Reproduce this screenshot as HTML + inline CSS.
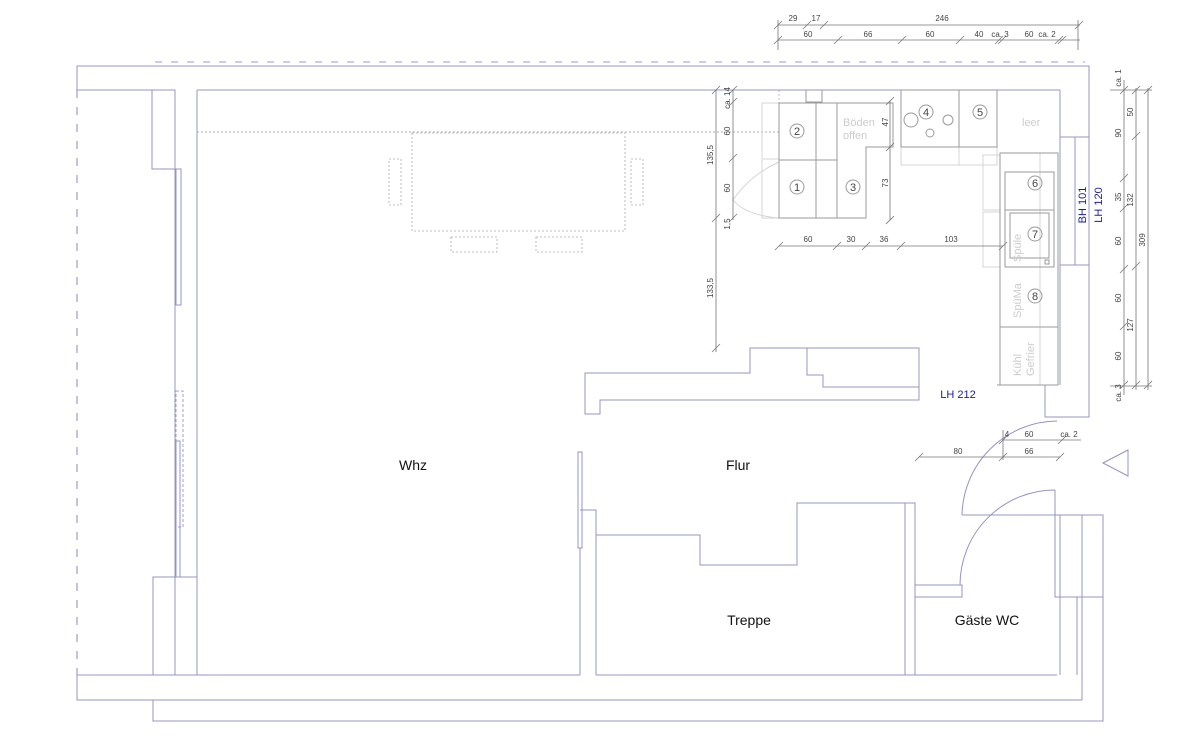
<!DOCTYPE html>
<html><head><meta charset="utf-8"><style>
html,body{margin:0;padding:0;background:#fff;}
svg{display:block;font-family:"Liberation Sans",sans-serif;}
.w{stroke:#9494c4;stroke-width:1;fill:none}
.c{stroke:#9a9a9a;stroke-width:1;fill:none}
.l{stroke:#d4d4d4;stroke-width:1;fill:none}
.d{stroke:#999;stroke-width:0.8;fill:none}
.t{stroke:#777;stroke-width:0.8}
.dim{font-size:8px;fill:#444}
.num{font-size:11px;fill:#444;text-anchor:middle}
</style></head><body>
<svg width="1200" height="749" viewBox="0 0 1200 749" xmlns="http://www.w3.org/2000/svg">
<line x1="155" y1="62" x2="1085" y2="62" stroke="#9a9ad0" stroke-width="1" stroke-dasharray="7,9"/>
<polyline class="w" points="77,90 77,66 1089,66 1089,417 1045,417 1045,385 997,385"/>
<line x1="77" y1="90" x2="77" y2="675" stroke="#8a8ab8" stroke-width="1" stroke-dasharray="8,9"/>
<line class="w" x1="77" y1="90" x2="152" y2="90"/>
<line class="w" x1="197" y1="90" x2="1060" y2="90"/>
<polyline class="w" points="1060,90 1060,137 1089,137"/>
<rect class="w" x="1060" y="137" width="29" height="128"/>
<line class="w" x1="1075" y1="137" x2="1075" y2="265"/>
<line class="w" x1="1060" y1="265" x2="1060" y2="385"/>
<rect class="w" x="152" y="90" width="23" height="79"/>
<line class="w" x1="175" y1="90" x2="175" y2="675"/>
<line class="w" x1="197" y1="90" x2="197" y2="675"/>
<rect class="w" x="176" y="169" width="5" height="136"/>
<rect x="176" y="391" width="7" height="136" fill="none" stroke="#8a8ab8" stroke-width="0.8" stroke-dasharray="3,2"/>
<rect class="w" x="176" y="441" width="4" height="136"/>
<rect class="w" x="153" y="577" width="44" height="98"/>
<polyline class="w" points="77,675 77,700 1082,700"/>
<line class="w" x1="77" y1="675" x2="580" y2="675"/>
<line class="w" x1="596" y1="675" x2="1057" y2="675"/>
<polyline class="w" points="153,700 153,721 1103,721 1103,515"/>
<rect class="w" x="578" y="452" width="4" height="96"/>
<line class="w" x1="580" y1="548" x2="580" y2="675"/>
<polyline class="w" points="596,675 596,510 580,510"/>
<polyline class="w" points="596,535 700,535 700,565 797,565 797,503 915,503 915,675"/>
<line class="w" x1="905" y1="503" x2="905" y2="675"/>
<rect class="w" x="915" y="585" width="47" height="12"/>
<path class="w" d="M1057,421 A96,96 0 0 0 962,515"/>
<line class="w" x1="962" y1="515" x2="1103" y2="515"/>
<path class="w" d="M1055,490 A95,95 0 0 0 960,585"/>
<polyline class="w" points="1055,490 1055,597 1060,597"/>
<rect class="w" x="1060" y="515" width="43" height="82"/>
<line class="w" x1="1082" y1="515" x2="1082" y2="700"/>
<line class="w" x1="1060" y1="597" x2="1060" y2="675"/>
<line class="w" x1="1077" y1="597" x2="1077" y2="675"/>
<polygon class="w" points="1103,463 1128,450 1128,476"/>
<polygon class="w" points="585,373 750,373 750,348 919,348 919,400 600,400 600,414 585,414"/>
<polyline class="w" points="807,348 807,375 823,375 823,387 919,387"/>
<line x1="197" y1="132" x2="779" y2="132" stroke="#999" stroke-width="0.8" stroke-dasharray="2,2"/>
<g stroke="#aaa" stroke-width="0.8" fill="none" stroke-dasharray="2,2">
<rect x="412" y="133" width="213" height="98"/>
<rect x="389" y="159" width="12" height="46"/>
<rect x="631" y="159" width="12" height="46"/>
<rect x="451" y="237" width="46" height="15"/>
<rect x="536" y="237" width="46" height="15"/>
<line x1="779" y1="90" x2="779" y2="132"/>
</g>
<g class="l">
<rect x="762" y="103" width="17" height="56"/>
<path d="M762,160 L762,218 L779,218"/>
<path d="M733,200 Q750,175 779,162"/><path d="M733,200 Q745,215 779,218"/>
<rect x="901" y="147" width="58" height="18"/>
<rect x="959" y="147" width="38" height="18"/>
<rect x="983" y="155" width="17" height="55"/>
<rect x="983" y="212" width="17" height="55"/>
<line x1="1040" y1="153" x2="1040" y2="385"/>
</g>
<g class="c">
<rect x="806" y="90" width="16" height="12"/>
<rect x="779" y="103" width="58" height="57"/>
<rect x="779" y="160" width="58" height="58"/>
<line x1="816" y1="103" x2="816" y2="218"/>
<polyline points="837,103 893,103 893,147 866,147 866,218 837,218"/>
<line x1="837" y1="103" x2="837" y2="218"/>
<rect x="901" y="90" width="58" height="57"/>
<rect x="959" y="90" width="38" height="57"/>
<rect x="1000" y="153" width="58" height="232"/>
<rect x="1005" y="172" width="49" height="38"/>
<rect x="1005" y="210" width="49" height="57"/>
<rect x="1010" y="213" width="39" height="45"/>
<rect x="1045" y="260" width="4" height="4"/>
<line x1="1000" y1="327" x2="1058" y2="327"/>
<circle cx="911" cy="120" r="7"/><circle cx="948" cy="120" r="5"/><circle cx="930" cy="133" r="4"/>
</g>
<g class="c">
<circle cx="797" cy="131" r="7"/><circle cx="797" cy="187" r="7"/><circle cx="853" cy="187" r="7"/>
<circle cx="926" cy="112" r="7"/><circle cx="980" cy="112" r="7"/><circle cx="1035" cy="183" r="7"/>
<circle cx="1035" cy="234" r="7"/><circle cx="1035" cy="296" r="7"/>
</g>
<g class="num">
<text x="797" y="135">2</text><text x="797" y="191">1</text><text x="853" y="191">3</text>
<text x="926" y="116">4</text><text x="980" y="116">5</text><text x="1035" y="187">6</text>
<text x="1035" y="238">7</text><text x="1035" y="300">8</text>
</g>
<g fill="#ccc" font-size="11">
<text x="843" y="126">Böden</text><text x="843" y="139">offen</text>
<text x="1022" y="126">leer</text>
<text transform="translate(1021,262) rotate(-90)">Spüle</text>
<text transform="translate(1021,318) rotate(-90)">SpüMa</text>
<text transform="translate(1021,376) rotate(-90)">Kühl</text>
<text transform="translate(1034,376) rotate(-90)">Gefrier</text>
</g>
<g class="t" fill="none">
<line x1="778" y1="25" x2="1080" y2="25"/>
<line x1="778" y1="40" x2="1080" y2="40"/>
<line x1="778" y1="20" x2="778" y2="50"/><line x1="1078" y1="20" x2="1078" y2="50"/>
<path d="M774,29 l8,-8 M803,29 l8,-8 M820,29 l8,-8 M1075,29 l8,-8 M774,44 l8,-8 M834,44 l8,-8 M898,44 l8,-8 M956,44 l8,-8 M995,44 l8,-8 M998,44 l8,-8 M1055,44 l8,-8 M1058,44 l8,-8"/>
<line x1="716" y1="90" x2="716" y2="352"/><line x1="733" y1="90" x2="733" y2="220"/>
<path d="M712,94 l8,-8 M729,94 l8,-8 M729,106 l8,-8 M729,162 l8,-8 M729,222 l8,-8 M712,222 l8,-8 M712,352 l8,-8"/>
<line x1="779" y1="246" x2="1003" y2="246"/>
<path d="M775,250 l8,-8 M833,250 l8,-8 M862,250 l8,-8 M897,250 l8,-8 M999,250 l8,-8"/>
<line x1="890" y1="101" x2="890" y2="220"/>
<path d="M886,105 l8,-8 M886,151 l8,-8 M886,224 l8,-8"/>
<line x1="1124" y1="80" x2="1124" y2="395"/><line x1="1136" y1="88" x2="1136" y2="390"/><line x1="1148" y1="88" x2="1148" y2="390"/>
<line x1="1110" y1="90" x2="1152" y2="90"/><line x1="1110" y1="386" x2="1152" y2="386"/>
<path d="M1120,94 l8,-8 M1120,182 l8,-8 M1120,212 l8,-8 M1120,273 l8,-8 M1120,330 l8,-8 M1120,389 l8,-8 M1132,94 l8,-8 M1132,140 l8,-8 M1132,270 l8,-8 M1132,389 l8,-8 M1144,94 l8,-8 M1144,389 l8,-8"/>
<line x1="1003" y1="440" x2="1081" y2="440"/><line x1="919" y1="457" x2="1060" y2="457"/>
<line x1="1003" y1="430" x2="1003" y2="460"/>
<path d="M999,444 l8,-8 M1058,444 l8,-8 M915,461 l8,-8 M999,461 l8,-8 M1056,461 l8,-8"/>
</g>
<g class="dim" text-anchor="middle">
<text x="793" y="21">29</text><text x="816" y="21">17</text><text x="942" y="21">246</text>
<text x="808" y="37">60</text><text x="868" y="37">66</text><text x="930" y="37">60</text><text x="979" y="37">40</text><text x="1000" y="37">ca. 3</text><text x="1029" y="37">60</text><text x="1047" y="37">ca. 2</text>
<text x="808" y="242">60</text><text x="851" y="242">30</text><text x="884" y="242">36</text><text x="951" y="242">103</text>
<text x="1007" y="437">4</text><text x="1029" y="437">60</text><text x="1069" y="437">ca. 2</text>
<text x="958" y="454">80</text><text x="1029" y="454">66</text>
<text transform="translate(713,155) rotate(-90)">135,5</text>
<text transform="translate(713,288) rotate(-90)">133,5</text>
<text transform="translate(730,98) rotate(-90)">ca. 14</text>
<text transform="translate(730,131) rotate(-90)">60</text>
<text transform="translate(730,188) rotate(-90)">60</text>
<text transform="translate(730,224) rotate(-90)">1,5</text>
<text transform="translate(888,122) rotate(-90)">47</text>
<text transform="translate(888,183) rotate(-90)">73</text>
<text transform="translate(1121,78) rotate(-90)">ca. 1</text>
<text transform="translate(1121,133) rotate(-90)">90</text>
<text transform="translate(1121,197) rotate(-90)">35</text>
<text transform="translate(1121,241) rotate(-90)">60</text>
<text transform="translate(1121,298) rotate(-90)">60</text>
<text transform="translate(1121,356) rotate(-90)">60</text>
<text transform="translate(1121,393) rotate(-90)">ca. 3</text>
<text transform="translate(1133,112) rotate(-90)">50</text>
<text transform="translate(1133,200) rotate(-90)">132</text>
<text transform="translate(1133,325) rotate(-90)">127</text>
<text transform="translate(1145,240) rotate(-90)">309</text>
</g>
<g fill="#1a1aa0" font-size="11" text-anchor="middle">
<text x="958" y="398">LH 212</text>
<text transform="translate(1086,205) rotate(-90)">BH 101</text>
<text transform="translate(1102,205) rotate(-90)">LH 120</text>
</g>
<g fill="#111" font-size="14" text-anchor="middle">
<text x="413" y="470">Whz</text><text x="738" y="470">Flur</text>
<text x="749" y="625">Treppe</text><text x="987" y="625">Gäste WC</text>
</g>
</svg>
</body></html>
